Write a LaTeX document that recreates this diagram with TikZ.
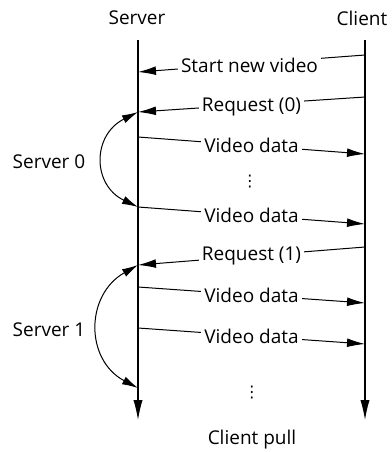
\documentclass[tikz,border=0pt]{standalone}
\usepackage{fontspec}
\setmainfont{Open Sans}
\newfontfamily\symfont{DejaVu Sans}
\usetikzlibrary{arrows.meta}
\begin{document}
\begin{tikzpicture}[x=0.5pt,y=-0.5pt,
  lbl/.style={font=\fontsize{9.5}{11}\selectfont},
  dots/.style={font=\symfont\fontsize{8}{9}\selectfont, inner sep=0pt},
  tip/.style={Latex[length=9pt,width=4.4pt]},
  msg/.style={draw, line width=0.5pt, -{Latex[length=9pt,width=4.4pt]}},
  msglbl/.style={lbl, fill=white, inner sep=1.5pt, midway},
  life/.style={draw, line width=0.55pt, -{Latex[length=10pt,width=4.6pt]}},
  span/.style={draw, line width=0.5pt, {Latex[length=8pt,width=4.2pt]}-{Latex[length=8pt,width=4.2pt]}}]
\useasboundingbox (0,0) rectangle (392,452);

% column headings
\node[lbl] (srv) at (137,18) {Server};
\node[lbl] (cli) at (362,18) {Client};
\node[lbl] (cap) at (252,440) {Client pull};

% lifelines
\coordinate (stop) at (138,40);
\coordinate (sbot) at (138,420);
\coordinate (ctop) at (365,40);
\coordinate (cbot) at (365,420);
\draw[life] (stop) -- (sbot);
\draw[life] (ctop) -- (cbot);

% message end points on the lifelines
\coordinate (c1) at (365,55);  \coordinate (s1) at (138,72);
\coordinate (c2) at (365,97);  \coordinate (s2) at (138,112);
\coordinate (s3) at (138,137); \coordinate (c3) at (365,154);
\coordinate (s4) at (138,207); \coordinate (c4) at (365,224);
\coordinate (c5) at (365,247); \coordinate (s5) at (138,265);
\coordinate (s6) at (138,287); \coordinate (c6) at (365,303);
\coordinate (s7) at (138,328); \coordinate (c7) at (365,344);
\coordinate (s8) at (138,388);

% messages
\draw[msg] (c1) -- node[msglbl, xshift=-1pt, yshift=-1pt] (m1) {Start new video} (s1);
\draw[msg] (c2) -- node[msglbl, yshift=-1pt] (m2) {Request (0)} (s2);
\draw[msg] (s3) -- node[msglbl] (m3) {Video data} (c3);
\draw[msg] (s4) -- node[msglbl] (m4) {Video data} (c4);
\draw[msg] (c5) -- node[msglbl] (m5) {Request (1)} (s5);
\draw[msg] (s6) -- node[msglbl] (m6) {Video data} (c6);
\draw[msg] (s7) -- node[msglbl] (m7) {Video data} (c7);

% ellipses
\node[dots] (d1) at (250,182) {⋮};
\node[dots] (d2) at (252,393) {⋮};

% server spans
\draw[span] (s2) .. controls (92,135) and (92,185) .. (s4);
\node[lbl] (sv0) at (49,162) {Server 0};
\draw[span] (s5) .. controls (85,295) and (85,360) .. (s8);
\node[lbl] (sv1) at (49,330) {Server 1};
\end{tikzpicture}
\end{document}
